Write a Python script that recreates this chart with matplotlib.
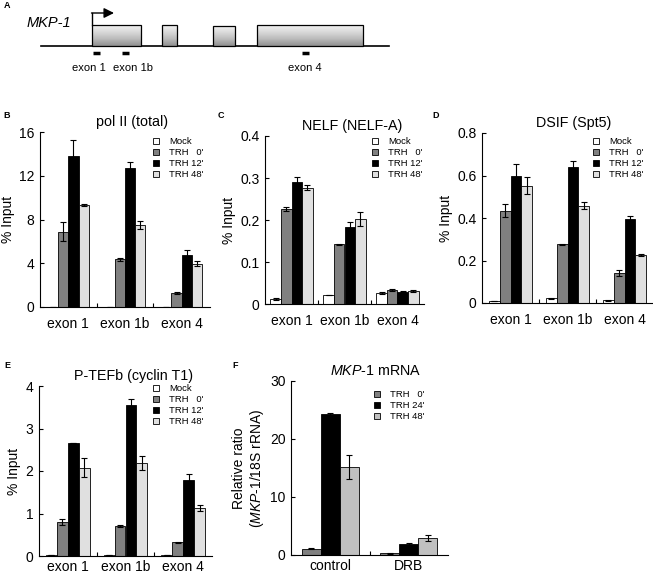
import numpy as np
import matplotlib
matplotlib.use('Agg')
import matplotlib.pyplot as plt
from matplotlib.patches import Rectangle
from matplotlib.ticker import FuncFormatter, FixedLocator

plt.rcParams['font.family'] = ['Liberation Sans', 'DejaVu Sans']
plt.rcParams['mathtext.fontset'] = 'custom'
plt.rcParams['mathtext.it'] = 'Liberation Sans:italic'
plt.rcParams['mathtext.rm'] = 'Liberation Sans'

W, H = 653, 578

# ---- data ----
sites = ['exon 1', 'exon 1b', 'exon 4']
chip_labels = ['Mock', "TRH   0'", "TRH 12'", "TRH 48'"]
chip_colors = ['white', '#808080', 'black', '#e0e0e0']

pol2_mean = [[0.03, 0.03, 0.03], [6.9, 4.37, 1.25], [13.85, 12.75, 4.8], [9.33, 7.5, 3.97]]
pol2_err = [[0, 0, 0], [0.85, 0.15, 0.1], [1.4, 0.55, 0.4], [0.1, 0.4, 0.2]]

nelf_mean = [[0.012, 0.021, 0.026], [0.226, 0.142, 0.033], [0.29, 0.183, 0.029], [0.277, 0.202, 0.031]]
nelf_err = [[0.002, 0, 0.002], [0.004, 0.002, 0.002], [0.013, 0.012, 0.001], [0.006, 0.016, 0.002]]

dsif_mean = [[0.01, 0.022, 0.013], [0.435, 0.276, 0.14], [0.6, 0.642, 0.395], [0.552, 0.458, 0.227]]
dsif_err = [[0, 0.002, 0.002], [0.03, 0.003, 0.015], [0.055, 0.025, 0.013], [0.04, 0.015, 0.004]]

ptefb_mean = [[0.02, 0.02, 0.02], [0.8, 0.7, 0.32], [2.65, 3.55, 1.78], [2.08, 2.19, 1.13]]
ptefb_err = [[0, 0, 0], [0.07, 0.02, 0.01], [0, 0.15, 0.14], [0.23, 0.16, 0.07]]

mrna_groups = ['control', 'DRB']
mrna_labels = ["TRH   0'", "TRH 24'", "TRH 48'"]
mrna_colors = ['#808080', 'black', '#c0c0c0']
mrna_mean = [[1.1, 0.3], [24.3, 1.9], [15.2, 2.9]]
mrna_err = [[0.1, 0.05], [0.15, 0.1], [2.1, 0.5]]

# gene diagram (diagram units)
exon_start = [92, 162, 213, 257]
exon_end = [141, 177, 235, 363]
exon_top = [25, 25, 26, 25]
probe_start = [93, 122, 302]
probe_end = [100, 129, 309]
probe_text_x = [89, 133, 305]
probe_names = ['exon 1', 'exon 1b', 'exon 4']

FS = 10  # ticks / category labels


def rect_px(x0, x1, ytop, ybot):
    return [x0 / W, 1 - ybot / H, (x1 - x0) / W, (ybot - ytop) / H]


fig = plt.figure(figsize=(W / 100, H / 100), dpi=100)

# ---- panel A: gene structure ----
axa = fig.add_axes([0, 1 - 110 / H, 1, 110 / H])
axa.axis('off')
grad = np.linspace(0, 1, 50).reshape(-1, 1)
axa.plot([41, 389], [46, 46], color='black', lw=1.2, zorder=1)
for s, e, t in zip(exon_start, exon_end, exon_top):
    axa.imshow(grad, extent=(s, e, 46, t), cmap='Greys', vmin=-0.3, vmax=2.2,
               aspect='auto', zorder=2)
    axa.add_patch(Rectangle((s, t), e - s, 46 - t, fill=False, ec='black', lw=0.9, zorder=3))
axa.plot([exon_start[0], exon_start[0]], [exon_top[0], 13], color='black', lw=1.0)
axa.annotate('', xy=(114, 13), xytext=(exon_start[0] - 0.5, 13),
             arrowprops=dict(arrowstyle='-|>,head_length=0.6,head_width=0.3',
                             color='black', lw=1.0, shrinkA=0, shrinkB=0))
for s, e, tx, name in zip(probe_start, probe_end, probe_text_x, probe_names):
    axa.plot([s, e], [53, 53], color='black', lw=2.5, solid_capstyle='butt')
    axa.text(tx, 68, name, ha='center', va='center', fontsize=8)
axa.text(27, 23, 'MKP-1', style='italic', fontsize=10.5, ha='left', va='center')
axa.set_xlim(0, W)
axa.set_ylim(110, 0)


def fmt(v, pos):
    return '0' if v == 0 else f'{v:g}'


def draw_panel(rect, groups, means, errs, labels, colors, width, yticks, title,
               title_dx, leg_xy, xpad=7):
    ax = fig.add_axes(rect)
    n = len(means)
    x = np.arange(len(groups))
    for i in range(n):
        pos = x + (i - (n - 1) / 2) * width
        ax.bar(pos, means[i], width, color=colors[i], edgecolor='black',
               linewidth=0.6, label=labels[i], zorder=2)
        ax.errorbar(pos, means[i], yerr=errs[i], fmt='none', ecolor='black',
                    elinewidth=0.8, capsize=2.5, capthick=0.8, zorder=3)
    ax.set_xlim(-0.5, len(groups) - 0.5)
    ax.set_ylim(yticks[0], yticks[-1])
    ax.set_yticks(yticks)
    ax.yaxis.set_major_formatter(FuncFormatter(fmt))
    ax.set_xticks(x)
    ax.set_xticklabels(groups)
    ax.xaxis.set_minor_locator(FixedLocator(x[:-1] + 0.5))
    ax.tick_params(axis='x', which='major', length=0, pad=xpad, labelsize=FS)
    ax.tick_params(axis='x', which='minor', direction='in', length=3, width=0.8)
    ax.tick_params(axis='y', direction='in', length=3, width=0.8, pad=4, labelsize=FS)
    for sp in ['top', 'right']:
        ax.spines[sp].set_visible(False)
    for sp in ['left', 'bottom']:
        ax.spines[sp].set_linewidth(0.8)
    ax.text(0.5 + title_dx / (rect[2] * W), 1.0 + 6 / (rect[3] * H), title,
            transform=ax.transAxes, ha='center', va='baseline', fontsize=10.3)
    ax.legend(loc='upper left', bbox_to_anchor=(leg_xy[0] / W, 1 - leg_xy[1] / H),
              bbox_transform=fig.transFigure, frameon=False, fontsize=6.8,
              handlelength=0.6, handleheight=0.6, handletextpad=1.1,
              labelspacing=0.22, borderpad=0, borderaxespad=0)
    return ax


axb = draw_panel(rect_px(40, 210, 132, 307), sites, pol2_mean, pol2_err, chip_labels,
                 chip_colors, 0.18, [0, 4, 8, 12, 16], 'pol II (total)', 7, (153, 137))
axb.set_ylabel('% Input', fontsize=FS, labelpad=3)

axc = draw_panel(rect_px(265, 424, 136, 304), sites, nelf_mean, nelf_err, chip_labels,
                 chip_colors, 0.2, [0, 0.1, 0.2, 0.3, 0.4], 'NELF (NELF-A)', 8, (372, 137))
axc.set_ylabel('% Input', fontsize=FS, labelpad=3)

axd = draw_panel(rect_px(482, 653, 133, 303), sites, dsif_mean, dsif_err, chip_labels,
                 chip_colors, 0.19, [0, 0.2, 0.4, 0.6, 0.8], 'DSIF (Spt5)', 6, (593, 137))
axd.set_ylabel('% Input', fontsize=FS, labelpad=3)

axe = draw_panel(rect_px(39, 212, 386, 556), sites, ptefb_mean, ptefb_err, chip_labels,
                 chip_colors, 0.19, [0, 1, 2, 3, 4], 'P-TEFb (cyclin T1)', 8, (153, 384),
                 xpad=3)
axe.set_ylabel('% Input', fontsize=FS, labelpad=3)

axf = draw_panel(rect_px(291, 448, 381, 555), mrna_groups, mrna_mean, mrna_err, mrna_labels,
                 mrna_colors, 0.24, [0, 10, 20, 30], r'$\mathit{MKP}$-$\mathit{1}$ mRNA', 6,
                 (374, 390), xpad=3)
axf.set_ylabel('Relative ratio\n' + r'($\mathit{MKP}$-$\mathit{1}$/18S rRNA)',
               fontsize=FS, labelpad=3, linespacing=1.1)

# panel letters
for letter, px, py in [('A', 4, 6), ('B', 3, 115), ('C', 218, 115), ('D', 432, 115),
                       ('E', 4, 365), ('F', 232, 365)]:
    fig.text(px / W, 1 - py / H, letter, fontsize=6.5, fontweight='bold',
             ha='left', va='center')

fig.savefig('out.png', dpi=100)
